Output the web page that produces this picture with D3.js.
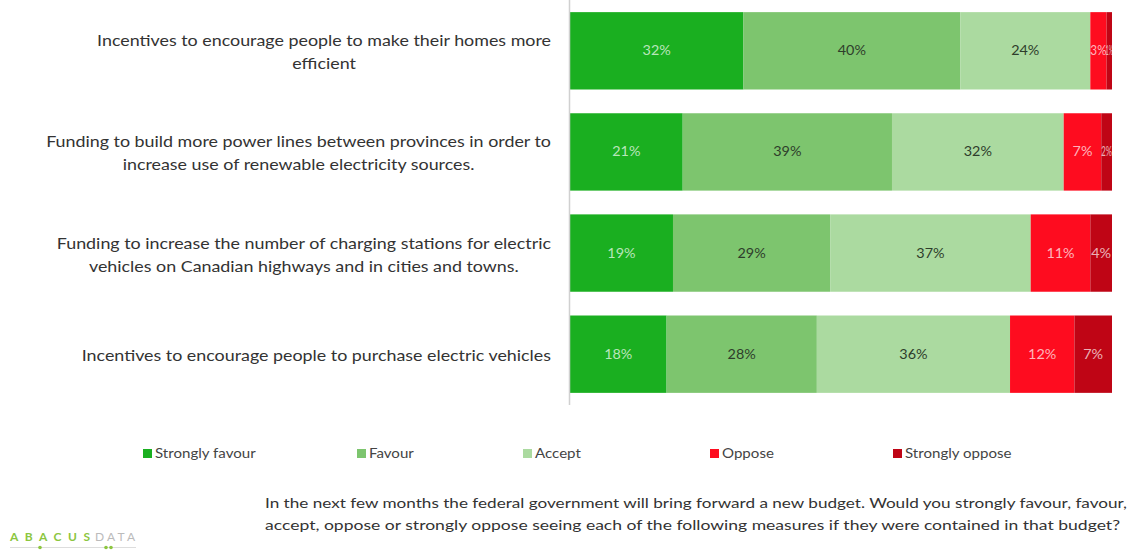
<!DOCTYPE html>
<html><head><meta charset="utf-8">
<script src="https://cdn.jsdelivr.net/npm/d3@7"></script>
<style>body{margin:0;background:#fff;} svg{display:block;font-family:Lato,"Open Sans",sans-serif;}</style>
</head><body><svg id="c" width="1130" height="552"></svg>
<script>
const categories = [
  ["Incentives to encourage people to make their homes more", "efficient"],
  ["Funding to build more power lines between provinces in order to", "increase use of renewable electricity sources."],
  ["Funding to increase the number of charging stations for electric", "vehicles on Canadian highways and in cities and towns."],
  ["Incentives to encourage people to purchase electric vehicles"]
];
const seriesNames = ["Strongly favour", "Favour", "Accept", "Oppose", "Strongly oppose"];
const stronglyFavour = [32, 21, 19, 18];
const favour = [40, 39, 29, 28];
const accept = [24, 32, 37, 36];
const oppose = [3, 7, 11, 12];
const stronglyOppose = [1, 2, 4, 7];
const colors = ["#1aaf20", "#7dc56e", "#abdaa0", "#fe0c1f", "#bf0515"];
const labelColors = ["rgba(255,255,255,0.7)", "#2e3d2b", "#2e3d2b", "rgba(255,255,255,0.7)", "rgba(255,255,255,0.7)"];
const footnote = ["In the next few months the federal government will bring forward a new budget. Would you strongly favour, favour,",
                  "accept, oppose or strongly oppose seeing each of the following measures if they were contained in that budget?"];

const svg = d3.select("#c");
function stretch(sel, f) {
  sel.each(function() {
    const w = this.getComputedTextLength();
    d3.select(this).attr("textLength", w * f).attr("lengthAdjust", "spacingAndGlyphs");
  });
}
const series = [stronglyFavour, favour, accept, oppose, stronglyOppose];
const rows = categories.map((c, i) => {
  const vals = series.map(s => s[i]);
  const total = d3.sum(vals);
  let cum = 0;
  return vals.map((v, k) => { const r = {k, v, x0: cum / total, x1: (cum + v) / total}; cum += v; return r; });
});

const x = d3.scaleLinear().domain([0, 1]).range([570, 1112]);
const y = d3.scaleBand().domain(d3.range(categories.length)).range([0, 405]).paddingInner(0.235).paddingOuter(0.12);

const F = 1.19;
rows.forEach((segs, i) => {
  const g = svg.append("g");
  g.selectAll("rect").data(segs).join("rect")
    .attr("x", d => x(d.x0)).attr("width", d => x(d.x1) - x(d.x0))
    .attr("y", y(i)).attr("height", y.bandwidth())
    .attr("fill", d => colors[d.k]);
  const t = g.selectAll("text").data(segs).join("text")
    .attr("x", d => (x(d.x0) + x(d.x1)) / 2).attr("y", y(i) + y.bandwidth() / 2 + 4.5)
    .attr("text-anchor", "middle").attr("font-size", 12.5)
    .attr("fill", d => labelColors[d.k]).text(d => d.v + "%");
  t.each(function(d) {
    const w = this.getComputedTextLength() * 1.15;
    const avail = x(d.x1) - x(d.x0);
    d3.select(this).attr("textLength", Math.min(w, Math.max(avail, 7))).attr("lengthAdjust", "spacingAndGlyphs");
  });
  const lines = categories[i];
  const cy = y(i) + y.bandwidth() / 2;
  const texts = lines.map((l, j) => svg.append("text")
      .attr("y", cy + 7 + (j - (lines.length - 1) / 2) * 23)
      .attr("text-anchor", "middle").attr("font-size", 15).attr("fill", "#333").text(l));
  const widths = texts.map(t => t.node().getComputedTextLength() * F);
  const maxW = d3.max(widths);
  texts.forEach((t, j) => t.attr("x", 551 - maxW / 2).attr("textLength", widths[j]).attr("lengthAdjust", "spacingAndGlyphs"));
});

svg.append("line").attr("x1", 569.5).attr("x2", 569.5).attr("y1", 0).attr("y2", 405)
  .attr("stroke", "#d0d0d0").attr("stroke-width", 1.5);

const legendX = [143, 357, 523, 710, 893];
seriesNames.forEach((n, k) => {
  svg.append("rect").attr("x", legendX[k]).attr("y", 449).attr("width", 9).attr("height", 9).attr("fill", colors[k]);
  const t = svg.append("text").attr("x", legendX[k] + 12).attr("y", 458).attr("font-size", 13).attr("fill", "#444").text(n);
  stretch(t, 1.16);
});

footnote.forEach((l, j) => {
  svg.append("text").attr("x", 265).attr("y", 508 + j * 22).attr("font-size", 14).attr("fill", "#333")
    .attr("textLength", j === 0 ? 862 : 855).attr("lengthAdjust", "spacingAndGlyphs").text(l);
});

svg.append("text").attr("x", 10).attr("y", 541).attr("font-size", 12).attr("font-weight", 700)
  .attr("fill", "#8cc63f").attr("textLength", 80).attr("lengthAdjust", "spacing").text("ABACUS");
svg.append("text").attr("x", 95).attr("y", 541).attr("font-size", 12)
  .attr("fill", "#bbb").attr("textLength", 40).attr("lengthAdjust", "spacing").text("DATA");
svg.append("line").attr("x1", 10).attr("x2", 136).attr("y1", 547.5).attr("y2", 547.5).attr("stroke", "#ddd");
[40, 106, 111].forEach(cx => svg.append("circle").attr("cx", cx).attr("cy", 547.5).attr("r", 1.8).attr("fill", "#8cc63f"));
</script></body></html>
